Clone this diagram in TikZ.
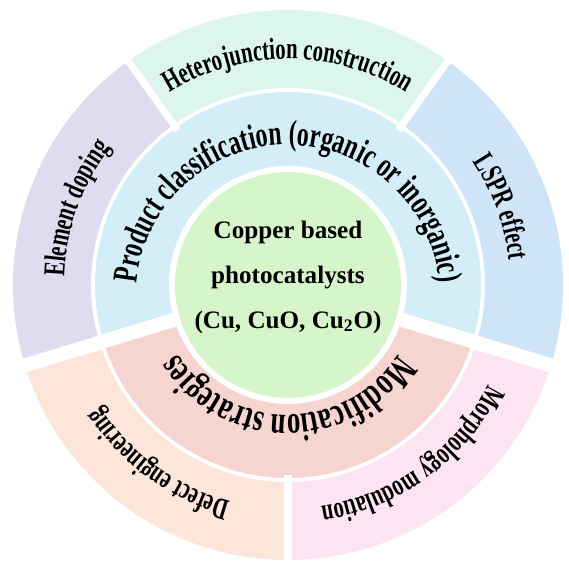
\documentclass[tikz,border=0pt]{standalone}
\usepackage{fontspec}
\setmainfont{Liberation Serif}
\newfontfamily\ringfont[FakeStretch=0.68]{Liberation Serif}
\usepackage{xcolor}
\usepackage{tikz}
\usetikzlibrary{decorations.text}

\definecolor{heterocol}{HTML}{DCF5EE}
\definecolor{elemcol}{HTML}{DEDCEE}
\definecolor{defectcol}{HTML}{FCE6DA}
\definecolor{morphcol}{HTML}{FCE5F1}
\definecolor{lsprcol}{HTML}{D0E4F7}
\definecolor{prodcol}{HTML}{D4EEF8}
\definecolor{modcol}{HTML}{F6D5D0}
\definecolor{corecol}{HTML}{D7F5CA}

\tikzset{
  outerlabel/.style={decorate, decoration={text along path, text align=center,
      text={|\ringfont\bfseries\fontsize{17.3}{19}\selectfont|#1}}},
  prodlabel/.style={decorate, decoration={text along path, text align=center,
      text={|\ringfont\bfseries\fontsize{20}{22}\selectfont|#1}}},
  modlabel/.style={decorate, decoration={text along path, text align=center,
      text={|\ringfont\bfseries\fontsize{22.5}{24}\selectfont|#1}}},
  corelabel/.style={align=center, font=\bfseries\fontsize{14.3}{25.6}\selectfont}
}

\begin{document}
\begin{tikzpicture}[x=0.02cm, y=0.02cm]
\useasboundingbox (-288,-284) rectangle (281,285);

% OUTER RING
  \foreach \a/\b/\col in {54.5/125.5/heterocol, 125.5/197/elemcol, 197/270/defectcol, 270/343/morphcol, 343/414.5/lsprcol}
    \fill[\col] (\a:275) arc[start angle=\a, end angle=\b, radius=275] -- (\b:197) arc[start angle=\b, end angle=\a, radius=197] -- cycle;

% MIDDLE RING
  \foreach \a/\b/\col in {-17/197/prodcol, 197/343/modcol}
    \fill[\col] (\a:193) arc[start angle=\a, end angle=\b, radius=193] -- (\b:119) arc[start angle=\b, end angle=\a, radius=119] -- cycle;

% GAPS
  \foreach \a in {54.5, 125.5, 270}
    \draw[white, line width=4pt] (\a:190) -- (\a:280);
  \foreach \a in {-17, 197}
    \draw[white, line width=8pt] (\a:100) -- (\a:280);

% CORE
  \fill[corecol] (0,0) circle[radius=113];

% Outer labels
  \path[outerlabel={Heterojunction construction}] (135:226) arc[start angle=135, end angle=45, radius=226];
  \path[outerlabel={Element doping}] (200:224) arc[start angle=200, end angle=120, radius=224];
  \path[outerlabel={LSPR effect}] (60:222) arc[start angle=60, end angle=-20, radius=222];
  \path[outerlabel={Morphology modulation}] (-10:224) arc[start angle=-10, end angle=-98, radius=224];
  \path[outerlabel={Defect engineering}] (-82:224) arc[start angle=-82, end angle=-170, radius=224];

% Middle labels
  \path[prodlabel={Product classification (organic or inorganic)}] (0,-12) ++(200:152) arc[start angle=200, end angle=-20, radius=152];
  \path[modlabel={Modification strategies}] (-5:130) arc[start angle=-5, end angle=-175, radius=130];

% Core label
  \node[corelabel] (core) at (0,8) {Copper based\\photocatalysts\\(Cu, CuO, Cu\textsubscript{2}O)};
\end{tikzpicture}
\end{document}
